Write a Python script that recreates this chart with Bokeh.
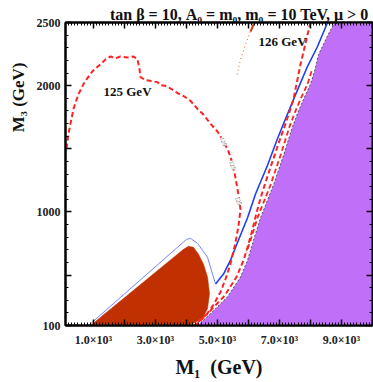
import math
from bokeh.plotting import figure
from bokeh.models import Range1d, FixedTicker, LinearAxis, Label, Title
from bokeh.embed import file_html
from bokeh.resources import INLINE

# ---------------- data ----------------
x_major = [1000, 2000, 3000, 4000, 5000, 6000, 7000, 8000, 9000, 10000]
x_labels = {1000: "1.0×10³", 2000: "", 3000: "3.0×10³", 4000: "", 5000: "5.0×10³",
            6000: "", 7000: "7.0×10³", 8000: "", 9000: "9.0×10³", 10000: ""}
x_minor = list(range(100, 10001, 100))
y_major = [100, 500, 1000, 1500, 2000, 2500]
y_labels = {100: "100", 500: "", 1000: "1000", 1500: "", 2000: "2000", 2500: "2500"}
y_minor = list(range(100, 2501, 100))

# excluded region (purple), boundary from bottom to top
purple_m1 = [4357, 4776, 5325, 5744, 5970, 6163, 6389, 6808, 7131, 7421, 7614, 7808, 8001, 8130, 8260, 8550, 8775]
purple_m3 = [100, 194, 327, 484, 617, 774, 954, 1213, 1448, 1675, 1800, 1910, 2012, 2114, 2247, 2396, 2500]

# brown region
brown_m1 = [906, 3906, 4067, 4228, 4389, 4551, 4680, 4744, 4680, 4551, 4293, 3970]
brown_m3 = [100, 703, 727, 719, 664, 586, 484, 351, 233, 170, 123, 100]

# thin blue contour around the brown region
blue_thin_m1 = [842, 4002, 4131, 4357, 4680, 4841, 4938]
blue_thin_m3 = [100, 782, 790, 751, 641, 507, 429]

# thick blue line
blue_m1 = [4938, 5196, 5421, 5647, 5970, 6228, 6615, 6938, 7131, 7421, 7905, 8227, 8550]
blue_m3 = [429, 507, 617, 758, 954, 1142, 1369, 1581, 1698, 1871, 2153, 2310, 2500]

# m_h = 125 GeV contour
h125_m1 = [132, 197, 358, 519, 713, 971, 1229, 1390, 1551, 1713, 1874, 2100, 2293, 2422, 2487,
           2519, 2680, 2906, 3067, 3164, 3357, 3519, 3712, 3906, 4131, 4357, 4551, 4776, 5002,
           5196, 5357, 5486, 5583, 5679, 5744, 5679, 5583, 5486, 5389, 5260, 5099, 4873, 4647,
           4389, 4260]
h125_m3 = [1502, 1620, 1816, 1933, 2027, 2114, 2169, 2208, 2231, 2216, 2231, 2223, 2231, 2208, 2129,
           2067, 2043, 2035, 2027, 2004, 1996, 1973, 1941, 1918, 1879, 1816, 1769, 1698, 1636,
           1557, 1479, 1384, 1267, 1134, 1017, 891, 758, 656, 562, 468, 366, 264, 186,
           123, 100]

# m_h = 126 GeV contour
h126_m1 = [8001, 7905, 7808, 7679, 7582, 7453, 7324, 7163, 7002, 6808, 6615, 6421, 6260, 6131,
           5970, 5841, 5615, 5228, 4680, 4325]
h126_m3 = [2500, 2404, 2302, 2169, 2051, 1894, 1792, 1675, 1565, 1424, 1283, 1134, 993, 860,
           719, 617, 484, 335, 194, 115]

# second red dashed contour hugging the purple edge
edge_m1 = [8034, 7905, 7711, 7518, 7324, 7034, 6711, 6292, 6066, 5937]
edge_m3 = [2114, 2012, 1910, 1800, 1675, 1448, 1213, 954, 774, 680]

# brownish dotted line near the top
dot_m1 = [6195, 6066, 5905, 5744, 5615]
dot_m3 = [2500, 2427, 2325, 2208, 2067]

# inline contour labels
lab125_m1 = [5196, 5486, 5679]
lab125_m3 = [1557, 1369, 1087]

X0, X1, Y0, Y1 = 100, 10000, 100, 2500

FONT = "Liberation Serif"

p = figure(width=373, height=380, output_backend="svg", toolbar_location=None,
           x_range=Range1d(X0, X1), y_range=Range1d(Y0, Y1),
           min_border_left=65, min_border_right=1, min_border_top=22, min_border_bottom=51)
p.grid.visible = False
p.background_fill_color = "white"
p.border_fill_color = "white"
p.outline_line_color = "black"
p.outline_line_width = 2

# main title
p.title.text = "tan β  = 10, A₀ = m₀, m₀ = 10 TeV, μ > 0"
p.title.align = "right"
p.title.text_font = FONT
p.title.text_font_style = "bold"
p.title.text_font_size = "16px"
p.title.text_color = "#111111"
p.title.standoff = 0
p.title.text_line_height = 0.9

# regions
p.patch(purple_m1 + [X1, X1], purple_m3 + [Y1, Y0], fill_color="#C070F8", line_color=None)
p.line(purple_m1, purple_m3, line_color="#333333", line_width=0.8, line_dash="2 2")
p.patch(brown_m1, brown_m3, fill_color="#C03000", line_color="#C03000", line_width=0.5)

# lines
p.line(blue_thin_m1, blue_thin_m3, line_color="#7085FF", line_width=1)
p.line(blue_m1, blue_m3, line_color="#1E40F0", line_width=1.6)
p.line(h125_m1, h125_m3, line_color="#FF2222", line_width=2, line_dash="5 3")
p.line(h126_m1, h126_m3, line_color="#FF2222", line_width=2, line_dash="5 3")
p.line(edge_m1, edge_m3, line_color="#FF2222", line_width=1.8, line_dash="5 3")
p.line(dot_m1[:2], dot_m3[:2], line_color="#C04010", line_width=2)
p.line(dot_m1[1:], dot_m3[1:], line_color="#E06020", line_width=1, line_dash="1 3")

# axes
def style_axis(ax, size="12px"):
    ax.axis_line_width = 2
    ax.axis_line_color = "black"
    ax.major_tick_in = 6
    ax.major_tick_out = 0
    ax.minor_tick_in = 3
    ax.minor_tick_out = 0
    ax.major_tick_line_width = 1.5
    ax.minor_tick_line_width = 1
    ax.major_label_text_font = FONT
    ax.major_label_text_font_style = "bold"
    ax.major_label_text_color = "#222222"
    ax.major_label_text_font_size = size

p.xaxis.ticker = FixedTicker(ticks=x_major, minor_ticks=x_minor)
p.yaxis.ticker = FixedTicker(ticks=y_major, minor_ticks=y_minor)
p.xaxis.major_label_overrides = x_labels
p.yaxis.major_label_overrides = y_labels
style_axis(p.xaxis[0])
style_axis(p.yaxis[0])
p.xaxis.major_label_standoff = 7
p.yaxis.major_label_standoff = 5
p.xaxis.axis_label = "M₁\u00a0 (GeV)"
p.xaxis.axis_label_text_font = FONT
p.xaxis.axis_label_text_font_style = "bold"
p.xaxis.axis_label_text_font_size = "20px"
p.xaxis.axis_label_text_color = "#111111"
p.xaxis.axis_label_standoff = 6

top = LinearAxis(ticker=FixedTicker(ticks=x_major, minor_ticks=x_minor),
                 major_label_overrides={t: "" for t in x_major})
right = LinearAxis(ticker=FixedTicker(ticks=y_major, minor_ticks=y_minor),
                   major_label_overrides={t: "" for t in y_major})
style_axis(top, "1px")
style_axis(right, "1px")
top.major_label_standoff = 0
right.major_label_standoff = 0
p.add_layout(top, "above")
p.add_layout(right, "right")

# y-axis label placed toward the upper part of the axis
ylab = Title(text="M₃ (GeV)", align="right", offset=40, vertical_align="top",
             text_font=FONT, text_font_style="bold", text_font_size="17px",
             text_color="#111111", standoff=8)
p.add_layout(ylab, "left")

# texts inside the plot
p.add_layout(Label(x=2100, y=1957, text="125 GeV", text_font=FONT, text_font_style="bold",
                   text_font_size="13px", text_align="center", text_baseline="middle",
                   text_color="#111111"))
p.add_layout(Label(x=7098, y=2349, text="126 GeV", text_font=FONT, text_font_style="bold",
                   text_font_size="13px", text_align="center", text_baseline="middle",
                   text_color="#111111"))
for lx, ly in zip(lab125_m1, lab125_m3):
    p.add_layout(Label(x=lx, y=ly, text="125", text_font=FONT, text_font_size="6px",
                       angle=-1.2, text_align="center", text_baseline="middle",
                       text_color="#555555", background_fill_color="white"))

open("out.html", "w").write(file_html(p, INLINE))
